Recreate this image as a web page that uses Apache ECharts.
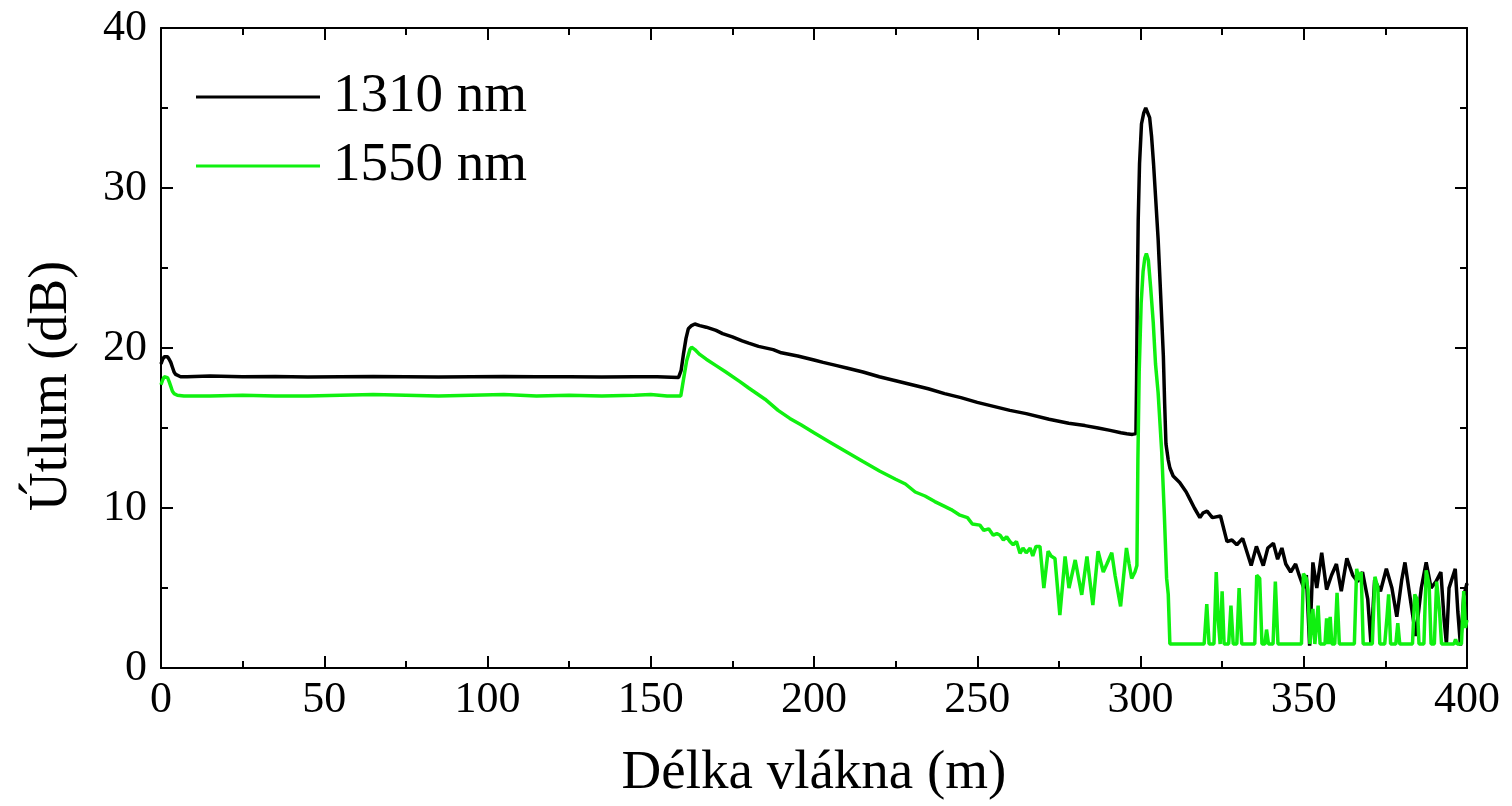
<!DOCTYPE html>
<html>
<head>
<meta charset="utf-8">
<script src="https://cdn.jsdelivr.net/npm/echarts@6/dist/echarts.min.js"></script>
<style>
html,body{margin:0;padding:0;background:#fff;}
#chart{width:1512px;height:806px;}
</style>
</head>
<body>
<div id="chart"></div>
<script>
const seriesNames = ['1310 nm', '1550 nm'];
const xTitle = 'Délka vlákna (m)';
const yTitle = 'Útlum (dB)';

// [length (m), attenuation (dB)]
const data1310 = [
  [0,19.0],[0.5,19.3],[1,19.45],[1.5,19.5],[2,19.45],[2.5,19.3],[3,19.1],[3.5,18.8],[4,18.5],[4.5,18.35],[5,18.25],[6,18.2],
  [8,18.2],[15,18.25],[25,18.2],[35,18.22],[45,18.18],[55,18.2],[65,18.22],[75,18.2],[85,18.18],[95,18.2],[105,18.22],
  [115,18.2],[125,18.2],[135,18.18],[145,18.2],[152,18.2],[158.5,18.15],[159.3,18.6],[160,19.6],[160.8,20.6],[161.5,21.2],
  [162.5,21.4],[163.5,21.5],[165,21.4],[167,21.3],[170,21.1],[172,20.9],[175,20.7],[178,20.45],[180,20.3],[183,20.1],
  [187.5,19.9],[190,19.7],[195,19.5],[200,19.25],[202.8,19.1],[207,18.9],[210,18.75],[215,18.5],[220,18.2],[225,17.95],
  [230,17.7],[235,17.45],[240,17.15],[245,16.9],[250,16.6],[255,16.35],[260,16.1],[265,15.9],[272,15.55],[278,15.3],
  [283,15.15],[287,15.0],[290.7,14.85],[294,14.7],[295.8,14.64],[297.5,14.6],[298.6,14.65],[298.8,18],[299,23],[299.3,28],
  [299.7,31.5],[300.3,34.0],[301,34.7],[301.6,35.0],[302.2,35.0],[302.8,34.4],[303.4,33.2],[304,31.5],[304.6,29.5],
  [305.4,26.8],[306.2,23.2],[307,19.5],[307.4,16.5],[307.8,14.0],[308.5,13.0],[309,12.5],[310,12.0],[312,11.6],[314,11.0],
  [315,10.6],[316.5,10.0],[318.2,9.4],[319.2,9.7],[320.4,9.8],[322,9.4],[324.5,9.5],[326.5,7.9],[328,8.0],[329.5,7.7],
  [331.3,8.1],[333.9,6.4],[335.5,7.6],[337.6,6.4],[339,7.5],[340.7,7.8],[342,6.8],[343.3,7.5],[344.5,6.5],[346,6.0],
  [347.5,6.5],[348.6,5.8],[350,5.0],[350.8,5.8],[351.8,1.4],[352.8,6.6],[354,5.0],[355.5,7.2],[357,4.9],[358.5,5.8],
  [360,6.5],[361.5,4.8],[363.2,6.85],[365,5.8],[366.5,5.4],[368,6.0],[369.6,4.3],[370.6,1.5],[371.7,5.5],[373.5,4.8],
  [375.3,6.2],[377,5.0],[378.5,3.2],[380,5.5],[381,6.6],[382.5,4.5],[384.3,2.0],[386,5.0],[387.5,6.6],[389,5.0],
  [390.5,5.4],[392,6.0],[393,3.0],[393.7,1.5],[394.5,5.0],[396.4,6.2],[397.2,3.5],[398,1.4],[399,4.5],[400,5.3]
];

const data1550 = [
  [0,17.7],[0.5,18.0],[1,18.2],[1.5,18.25],[2,18.15],[2.5,17.9],[3,17.6],[3.5,17.3],[4,17.15],[5,17.05],[7,17.0],
  [15,17.0],[25,17.05],[35,17.0],[45,17.0],[55,17.05],[65,17.1],[75,17.05],[85,17.0],[95,17.05],[105,17.1],[115,17.0],
  [125,17.05],[135,17.0],[145,17.05],[150,17.1],[155,17.0],[159.2,17.0],[160,18.0],[161,19.2],[162,19.9],[162.5,20.05],
  [163.5,19.9],[165,19.6],[167,19.3],[170,18.9],[173,18.5],[177.3,17.9],[180,17.5],[185,16.8],[189,16.1],[192.6,15.6],
  [196,15.2],[200,14.7],[205,14.1],[210,13.5],[215,12.9],[220.2,12.3],[225,11.8],[228,11.5],[231,11.0],[234,10.75],
  [237,10.4],[240,10.1],[242,9.9],[244.7,9.55],[247,9.4],[248.5,9.0],[250.8,8.93],[252,8.6],[253.5,8.7],[254.9,8.3],
  [256,8.4],[257,8.3],[258,8.0],[259,8.2],[260,7.9],[261,7.7],[262,7.9],[263.1,7.17],[264,7.5],[265,7.2],[266.2,7.5],
  [267,7.0],[268,7.6],[269.2,7.6],[270.4,5.0],[271.7,7.3],[272.6,7.0],[273.8,6.85],[275.3,3.3],[276.9,6.97],[278.1,5.0],
  [280,6.75],[282,4.57],[283.6,6.97],[285.4,3.94],[287,7.3],[288.6,6.0],[289.7,6.5],[291.2,7.2],[292.2,5.8],[293.9,3.85],
  [295.7,7.5],[296.5,6.5],[297.3,5.6],[298.3,6.0],[298.9,6.4],[299.2,13],[299.6,18.5],[300.2,22.8],[300.8,24.8],
  [301.3,25.6],[301.8,25.9],[302.4,25.5],[303.1,23.8],[303.9,21.6],[304.6,19.0],[305.4,17.2],[306.5,13.5],[307.3,9.6],
  [308,5.6],[308.5,4.6],[309,1.5],[319.5,1.5],[320.3,4.0],[321,1.5],[322.5,1.5],[323.2,6.0],[323.8,3.0],[324.4,1.5],
  [325,4.8],[325.6,1.5],[327,1.5],[327.7,3.9],[328.4,1.5],[329.5,1.5],[330.2,5.0],[331,1.5],[335,1.5],[335.6,5.8],
  [336.5,5.6],[337.2,1.5],[338.1,1.5],[338.6,2.4],[339.2,1.5],[340.6,1.5],[341.3,5.4],[342.1,1.5],[349.3,1.5],[349.9,5.9],
  [350.8,5.6],[351.3,4.9],[351.9,1.5],[352.3,1.5],[352.8,3.7],[353.4,1.5],[353.9,1.5],[354.4,3.9],[355,1.5],[356.5,1.5],
  [357,3.1],[357.5,1.5],[357.7,1.5],[358.1,3.2],[358.6,1.5],[359.5,1.5],[360.2,4.7],[360.9,1.5],[365.5,1.5],[366.2,6.2],
  [366.9,5.5],[367.6,6.0],[368.2,1.5],[371,1.5],[371.8,5.7],[372.7,5.0],[373.3,1.5],[374.8,1.5],[375.5,3.2],[376,4.6],
  [376.6,1.5],[378.2,1.5],[378.8,2.8],[379.4,1.5],[383.3,1.5],[384,4.6],[384.7,4.3],[385.3,1.5],[386.8,1.5],[387.5,6.1],
  [388.4,5.2],[389,1.5],[390,1.5],[390.7,5.4],[391.6,3.5],[392.2,1.5],[396,1.5],[396.5,1.8],[397,1.5],[398.3,1.5],
  [399,4.8],[399.5,2.5],[400,3.0]
];

const xTicks = [0, 400, 50];   // min, max, interval
const yTicks = [0, 40, 10];

const FONT = '"Liberation Serif", "Times New Roman", serif';
const chart = echarts.init(document.getElementById('chart'), null, {renderer: 'canvas'});

const axisCommon = {
  axisLine: {show: true, onZero: false, lineStyle: {color: '#000', width: 2}},
  axisTick: {show: true, inside: true, length: 12, lineStyle: {color: '#000', width: 2}},
  minorTick: {show: true, splitNumber: 2, length: 7, lineStyle: {color: '#000', width: 2}},
  splitLine: {show: false},
  minorSplitLine: {show: false}
};

chart.setOption({
  animation: false,
  backgroundColor: '#fff',
  grid: {left: 161, right: 45, top: 28, bottom: 136, containLabel: false},
  legend: {
    show: true,
    orient: 'vertical',
    left: 196,
    top: 67,
    padding: 0,
    itemWidth: 124,
    itemHeight: 3,
    itemGap: 9,
    icon: 'rect',
    textStyle: {fontFamily: FONT, fontSize: 55, color: '#000', lineHeight: 60, padding: [0, 0, 0, 8]},
    data: seriesNames
  },
  graphic: [{
    type: 'text',
    x: 52,
    y: 386,
    rotation: Math.PI / 2,
    silent: true,
    style: {
      text: yTitle,
      fontFamily: FONT,
      fontSize: 54,
      fill: '#000',
      align: 'center',
      verticalAlign: 'middle'
    }
  }],
  xAxis: [
    Object.assign({}, axisCommon, {
      type: 'value', min: xTicks[0], max: xTicks[1], interval: xTicks[2], position: 'bottom',
      name: xTitle, nameLocation: 'middle', nameGap: 78,
      nameTextStyle: {fontFamily: FONT, fontSize: 55, color: '#000'},
      axisLabel: {show: true, margin: 10, fontFamily: FONT, fontSize: 44, color: '#000'}
    }),
    Object.assign({}, axisCommon, {
      type: 'value', min: xTicks[0], max: xTicks[1], interval: xTicks[2], position: 'top',
      axisLabel: {show: false}
    })
  ],
  yAxis: [
    Object.assign({}, axisCommon, {
      type: 'value', min: yTicks[0], max: yTicks[1], interval: yTicks[2], position: 'left',
      axisLabel: {show: true, margin: 14, fontFamily: FONT, fontSize: 44, color: '#000'}
    }),
    Object.assign({}, axisCommon, {
      type: 'value', min: yTicks[0], max: yTicks[1], interval: yTicks[2], position: 'right',
      axisLabel: {show: false}
    })
  ],
  series: [
    {
      name: seriesNames[0], type: 'line', data: data1310, showSymbol: false, symbol: 'none',
      xAxisIndex: 0, yAxisIndex: 0,
      lineStyle: {color: '#000', width: 3.5}, itemStyle: {color: '#000'}
    },
    {
      name: seriesNames[1], type: 'line', data: data1550, showSymbol: false, symbol: 'none',
      xAxisIndex: 0, yAxisIndex: 0,
      lineStyle: {color: '#10f010', width: 3.5}, itemStyle: {color: '#10f010'}
    }
  ]
});
</script>
</body>
</html>
